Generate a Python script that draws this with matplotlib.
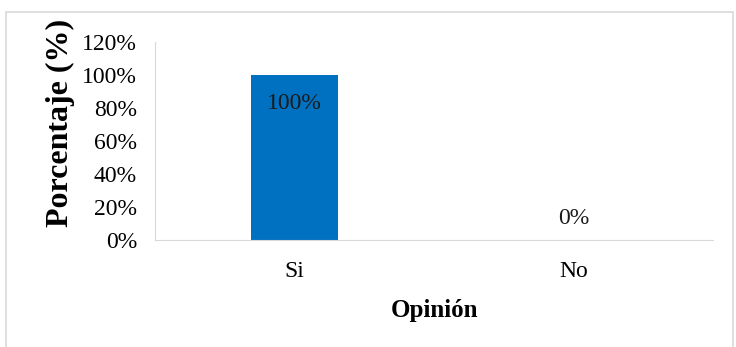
import matplotlib.pyplot as plt
from matplotlib.patches import Rectangle

# Datos
categorias = ['Si', 'No']
porcentajes = [100, 0]
etiquetas = ['100%', '0%']

plt.rcParams['font.family'] = ['Liberation Serif', 'DejaVu Serif']

fig = plt.figure(figsize=(7.36, 3.47), dpi=100)
fig.patches.append(Rectangle((6 / 736, -0.05), 727 / 736, 1 - 12 / 347 + 0.05,
                             transform=fig.transFigure, fill=False,
                             edgecolor='#d9d9d9', linewidth=1.2))

ax = fig.add_axes([155 / 736, 1 - 240 / 347, 558 / 736, 198 / 347])
x = range(len(categorias))
ax.bar(x, porcentajes, width=0.31, color='#0070C0')

ax.set_xlim(-0.5, 1.5)
ax.set_ylim(0, 120)
ax.set_yticks(range(0, 121, 20))
ax.set_yticklabels([f'{v}%' for v in range(0, 121, 20)], fontsize=17)
ax.set_xticks(list(x))
ax.set_xticklabels(categorias, fontsize=17)
ax.tick_params(length=0)
ax.tick_params(axis='y', pad=13)
ax.tick_params(axis='x', pad=15)

for s in ['top', 'right']:
    ax.spines[s].set_visible(False)
for s in ['left', 'bottom']:
    ax.spines[s].set_color('#d9d9d9')

# etiquetas de datos
for i, (v, t) in enumerate(zip(porcentajes, etiquetas)):
    if v > 10:
        ax.text(i, v - 17, t, ha='center', va='center', fontsize=17, color='#1a1a1a')
    else:
        ax.text(i, v + 13, t, ha='center', va='center', fontsize=17, color='#1a1a1a')

ax.set_xlabel('Opinión', fontsize=18, fontweight='bold', labelpad=12)
ax.set_ylabel('Porcentaje (%)', fontsize=23, fontweight='bold')
ax.yaxis.set_label_coords(-0.144, 0.593)

plt.savefig('out.png', dpi=100)
